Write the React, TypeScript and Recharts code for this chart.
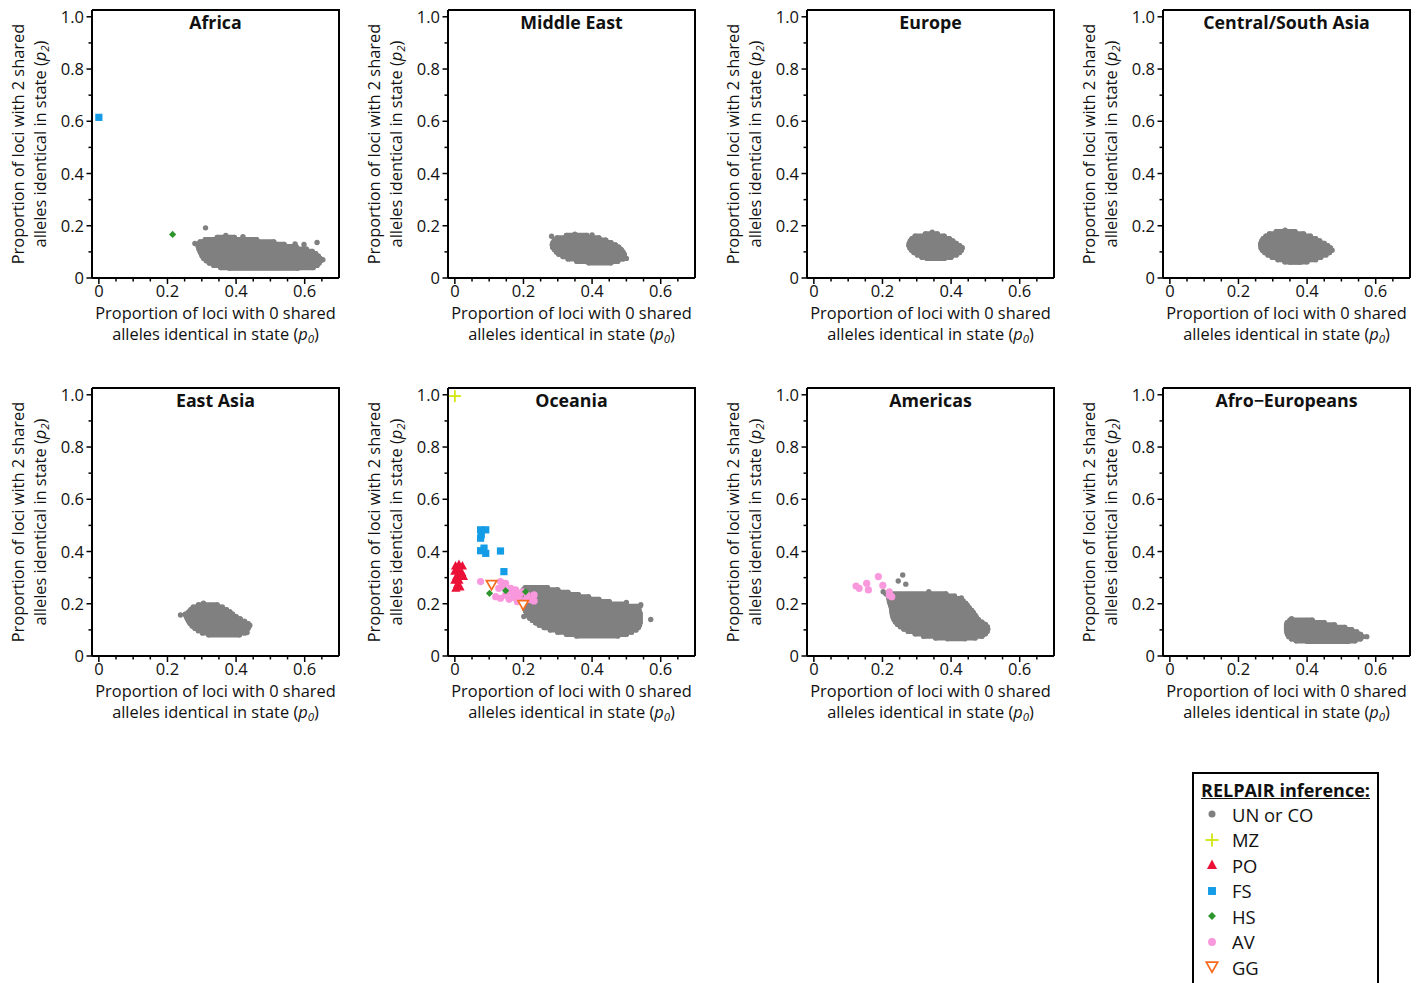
import React from "react";
import { ScatterChart, Scatter, XAxis, YAxis } from "recharts";

type XY = [number, number];
type Strip = [number, number, number]; // y, x from, x to (band of the dense cloud)

// ---- Africa ----
const africaCloud: Strip[] = [
  [0.156, 0.345, 0.395], [0.147, 0.31, 0.46], [0.138, 0.295, 0.51], [0.129, 0.288, 0.54],
  [0.12, 0.29, 0.575], [0.111, 0.292, 0.605], [0.102, 0.295, 0.622], [0.093, 0.298, 0.632],
  [0.084, 0.301, 0.64], [0.075, 0.306, 0.645], [0.066, 0.313, 0.646], [0.057, 0.322, 0.642],
  [0.048, 0.335, 0.636], [0.04, 0.355, 0.625], [0.038, 0.38, 0.58],
];
const africaUN: XY[] = [[0.311, 0.192], [0.636, 0.136], [0.572, 0.13], [0.653, 0.07], [0.28, 0.132], [0.598, 0.128], [0.37, 0.163], [0.42, 0.158]];
const africaFS: XY[] = [[0, 0.615]];
const africaHS: XY[] = [[0.215, 0.167]];

// ---- Middle East ----
const middleEastCloud: Strip[] = [
  [0.163, 0.325, 0.385], [0.154, 0.298, 0.42], [0.145, 0.29, 0.44], [0.136, 0.286, 0.455],
  [0.127, 0.284, 0.468], [0.118, 0.285, 0.478], [0.109, 0.29, 0.485], [0.1, 0.296, 0.49],
  [0.091, 0.303, 0.494], [0.082, 0.315, 0.494], [0.073, 0.33, 0.49], [0.064, 0.355, 0.475],
  [0.058, 0.39, 0.455],
];
const middleEastUN: XY[] = [[0.282, 0.16], [0.5, 0.075], [0.35, 0.168], [0.4, 0.165]];

// ---- Europe ----
const europeCloud: Strip[] = [
  [0.169, 0.325, 0.36], [0.16, 0.295, 0.38], [0.151, 0.286, 0.395], [0.142, 0.281, 0.405],
  [0.133, 0.278, 0.415], [0.124, 0.277, 0.425], [0.115, 0.28, 0.432], [0.106, 0.285, 0.43],
  [0.097, 0.292, 0.424], [0.088, 0.302, 0.415], [0.079, 0.315, 0.4], [0.075, 0.33, 0.38],
];
const europeUN: XY[] = [[0.345, 0.175], [0.432, 0.116]];

// ---- Central/South Asia ----
const centralAsiaCloud: Strip[] = [
  [0.178, 0.31, 0.365], [0.169, 0.29, 0.39], [0.16, 0.28, 0.41], [0.151, 0.272, 0.425],
  [0.142, 0.268, 0.437], [0.133, 0.265, 0.45], [0.124, 0.265, 0.46], [0.115, 0.266, 0.468],
  [0.106, 0.27, 0.47], [0.097, 0.277, 0.465], [0.088, 0.286, 0.455], [0.079, 0.298, 0.44],
  [0.07, 0.315, 0.425], [0.062, 0.335, 0.4], [0.061, 0.35, 0.38],
];
const centralAsiaUN: XY[] = [[0.336, 0.183], [0.473, 0.106]];

// ---- East Asia ----
const eastAsiaCloud: Strip[] = [
  [0.196, 0.29, 0.345], [0.187, 0.275, 0.36], [0.178, 0.268, 0.372], [0.169, 0.262, 0.382],
  [0.16, 0.252, 0.39], [0.151, 0.255, 0.4], [0.142, 0.258, 0.412], [0.133, 0.262, 0.425],
  [0.124, 0.266, 0.435], [0.115, 0.272, 0.438], [0.106, 0.28, 0.435], [0.097, 0.29, 0.43],
  [0.088, 0.302, 0.425], [0.081, 0.32, 0.41],
];
const eastAsiaUN: XY[] = [[0.238, 0.157], [0.305, 0.202], [0.44, 0.118], [0.432, 0.09]];

// ---- Oceania ----
const oceaniaCloud: Strip[] = [
  [0.262, 0.205, 0.27], [0.253, 0.199, 0.3], [0.244, 0.196, 0.33], [0.235, 0.195, 0.36],
  [0.226, 0.195, 0.39], [0.217, 0.196, 0.42], [0.208, 0.197, 0.45], [0.199, 0.199, 0.5],
  [0.19, 0.201, 0.53], [0.181, 0.203, 0.535], [0.172, 0.206, 0.538], [0.163, 0.209, 0.54],
  [0.154, 0.213, 0.54], [0.145, 0.218, 0.54], [0.136, 0.226, 0.54], [0.127, 0.235, 0.54],
  [0.118, 0.246, 0.538], [0.109, 0.26, 0.535], [0.1, 0.278, 0.528], [0.091, 0.3, 0.515],
  [0.083, 0.325, 0.5], [0.077, 0.355, 0.475],
];
const oceaniaUN: XY[] = [[0.571, 0.14], [0.542, 0.196], [0.201, 0.151], [0.54, 0.19], [0.5, 0.205], [0.3, 0.252]];
const oceaniaMZ: XY[] = [[0, 0.995]];
const oceaniaPO: XY[] = [
  [0.002, 0.345], [0.012, 0.35], [0.022, 0.345], [0.0, 0.325], [0.01, 0.33], [0.02, 0.32], [0.005, 0.305],
  [0.015, 0.31], [0.025, 0.305], [0.0, 0.29], [0.012, 0.29], [0.008, 0.275], [0.003, 0.26], [0.015, 0.265],
];
const oceaniaFS: XY[] = [
  [0.075, 0.483], [0.09, 0.483], [0.077, 0.464], [0.075, 0.451], [0.075, 0.403], [0.085, 0.413],
  [0.09, 0.393], [0.133, 0.402], [0.143, 0.323],
];
const oceaniaAV: XY[] = [
  [0.075, 0.285], [0.133, 0.285], [0.143, 0.272], [0.119, 0.227], [0.133, 0.221], [0.148, 0.234],
  [0.158, 0.217], [0.172, 0.234], [0.177, 0.253], [0.163, 0.259], [0.148, 0.278], [0.138, 0.266],
  [0.187, 0.227], [0.197, 0.246], [0.211, 0.234], [0.221, 0.215], [0.231, 0.234], [0.231, 0.211],
  [0.206, 0.215], [0.128, 0.259], [0.182, 0.208], [0.16, 0.245], [0.19, 0.24], [0.17, 0.224],
];
const oceaniaHS: XY[] = [[0.101, 0.24], [0.148, 0.25], [0.206, 0.246]];
const oceaniaGG: XY[] = [[0.107, 0.272], [0.199, 0.195]];

// ---- Americas ----
const americasCloud: Strip[] = [
  [0.238, 0.21, 0.385], [0.229, 0.217, 0.41], [0.22, 0.219, 0.425], [0.211, 0.22, 0.435],
  [0.202, 0.222, 0.443], [0.193, 0.224, 0.448], [0.184, 0.226, 0.453], [0.175, 0.227, 0.46],
  [0.166, 0.228, 0.465], [0.157, 0.229, 0.47], [0.148, 0.231, 0.474], [0.139, 0.234, 0.48],
  [0.13, 0.238, 0.49], [0.121, 0.244, 0.5], [0.112, 0.252, 0.506], [0.103, 0.262, 0.507],
  [0.094, 0.275, 0.505], [0.085, 0.295, 0.5], [0.076, 0.32, 0.49], [0.069, 0.355, 0.47],
  [0.066, 0.39, 0.44],
];
const americasUN: XY[] = [[0.259, 0.31], [0.246, 0.287], [0.268, 0.275], [0.335, 0.246], [0.43, 0.222], [0.202, 0.246]];
const americasAV: XY[] = [
  [0.123, 0.268], [0.132, 0.259], [0.154, 0.278], [0.159, 0.253], [0.188, 0.304], [0.201, 0.27],
  [0.22, 0.246], [0.227, 0.227], [0.22, 0.232],
];

// ---- Afro-Europeans ----
const afroEuropeanCloud: Strip[] = [
  [0.137, 0.35, 0.415], [0.128, 0.342, 0.45], [0.119, 0.34, 0.48], [0.11, 0.34, 0.51],
  [0.101, 0.34, 0.53], [0.092, 0.341, 0.545], [0.083, 0.343, 0.556], [0.074, 0.347, 0.562],
  [0.065, 0.355, 0.555], [0.058, 0.368, 0.54], [0.056, 0.4, 0.52],
];
const afroEuropeanUN: XY[] = [[0.574, 0.074], [0.355, 0.143]];

const X_TICKS = [0, 0.05, 0.1, 0.15, 0.2, 0.25, 0.3, 0.35, 0.4, 0.45, 0.5, 0.55, 0.6, 0.65];
const Y_TICKS = [0, 0.1, 0.2, 0.3, 0.4, 0.5, 0.6, 0.7, 0.8, 0.9, 1.0];
const LEGEND_CODES = ["UN", "MZ", "PO", "FS", "HS", "AV", "GG"];
const LEGEND_LABELS = ["UN or CO", "MZ", "PO", "FS", "HS", "AV", "GG"];

const FONT = "'Open Sans', 'Liberation Sans', sans-serif";
const GRAY = "#808080";
const COLORS: Record<string, string> = {
  UN: GRAY, MZ: "#d2e60f", PO: "#ec1237", FS: "#149ce6", HS: "#2e962e", AV: "#fa98de", GG: "#f76b1c",
};

const PLOT_W = 247;
const PLOT_H = 268;
const COL_LEFT = [92, 448, 807, 1163];
const ROW_TOP = [10, 388];

type Marks = { code: string; data: XY[] }[];
type PanelCfg = { title: string; row: number; col: number; cloud: Strip[]; marks: Marks };

const PANELS: PanelCfg[] = [
  { title: "Africa", row: 0, col: 0, cloud: africaCloud, marks: [{ code: "UN", data: africaUN }, { code: "FS", data: africaFS }, { code: "HS", data: africaHS }] },
  { title: "Middle East", row: 0, col: 1, cloud: middleEastCloud, marks: [{ code: "UN", data: middleEastUN }] },
  { title: "Europe", row: 0, col: 2, cloud: europeCloud, marks: [{ code: "UN", data: europeUN }] },
  { title: "Central/South Asia", row: 0, col: 3, cloud: centralAsiaCloud, marks: [{ code: "UN", data: centralAsiaUN }] },
  { title: "East Asia", row: 1, col: 0, cloud: eastAsiaCloud, marks: [{ code: "UN", data: eastAsiaUN }] },
  {
    title: "Oceania", row: 1, col: 1, cloud: oceaniaCloud,
    marks: [
      { code: "UN", data: oceaniaUN }, { code: "AV", data: oceaniaAV }, { code: "MZ", data: oceaniaMZ },
      { code: "PO", data: oceaniaPO }, { code: "FS", data: oceaniaFS }, { code: "HS", data: oceaniaHS },
      { code: "GG", data: oceaniaGG },
    ],
  },
  { title: "Americas", row: 1, col: 2, cloud: americasCloud, marks: [{ code: "UN", data: americasUN }, { code: "AV", data: americasAV }] },
  { title: "Afro\u2212Europeans", row: 1, col: 3, cloud: afroEuropeanCloud, marks: [{ code: "UN", data: afroEuropeanUN }] },
];

function marker(code: string, cx: number, cy: number, k = 1) {
  const c = COLORS[code];
  switch (code) {
    case "MZ":
      return (
        <g stroke={c} strokeWidth={1.8}>
          <line x1={cx - 6 * k} x2={cx + 6 * k} y1={cy} y2={cy} />
          <line x1={cx} x2={cx} y1={cy - 6 * k} y2={cy + 6 * k} />
        </g>
      );
    case "PO":
      return <polygon points={`${cx},${cy - 5 * k} ${cx + 4.6 * k},${cy + 3.6 * k} ${cx - 4.6 * k},${cy + 3.6 * k}`} fill={c} />;
    case "FS":
      return <rect x={cx - 3.6 * k} y={cy - 3.6 * k} width={7.2 * k} height={7.2 * k} fill={c} />;
    case "HS":
      return <polygon points={`${cx},${cy - 3.6 * k} ${cx + 3.6 * k},${cy} ${cx},${cy + 3.6 * k} ${cx - 3.6 * k},${cy}`} fill={c} />;
    case "AV":
      return <circle cx={cx} cy={cy} r={3.6 * k} fill={c} />;
    case "GG":
      return (
        <polygon
          points={`${cx - 5.2 * k},${cy - 4.4 * k} ${cx + 5.2 * k},${cy - 4.4 * k} ${cx},${cy + 4.8 * k}`}
          fill="#fff" stroke={c} strokeWidth={1.7}
        />
      );
    default:
      return <circle cx={cx} cy={cy} r={2.7 * k} fill={c} />;
  }
}

const XTick = (p: any) => {
  const v = p.payload.value as number;
  const major = Math.round(v * 100) % 20 === 0;
  return (
    <g>
      <line x1={p.x} x2={p.x} y1={p.y} y2={p.y + (major ? 6 : 3.5)} stroke="#000" strokeWidth={1.5} />
      {major && (
        <text x={p.x} y={p.y + 18.8} textAnchor="middle" fontSize={16.5} fontFamily={FONT} fill="#111">
          {v === 0 ? "0" : v.toFixed(1)}
        </text>
      )}
    </g>
  );
};

const YTick = (p: any) => {
  const v = p.payload.value as number;
  const major = Math.round(v * 10) % 2 === 0;
  return (
    <g>
      <line x1={p.x} x2={p.x - (major ? 5.5 : 3.5)} y1={p.y} y2={p.y} stroke="#000" strokeWidth={1.5} />
      {major && (
        <text x={p.x - 8} y={p.y + 6} textAnchor="end" fontSize={16.5} fontFamily={FONT} fill="#111">
          {v === 0 ? "0" : v.toFixed(1)}
        </text>
      )}
    </g>
  );
};

const sub: React.CSSProperties = { fontSize: "0.7em", verticalAlign: "-0.3em", fontStyle: "italic" };
const cloudLine = { stroke: GRAY, strokeWidth: 5.2, strokeLinecap: "round" as const, fill: "none" };

function Panel({ cfg }: { cfg: PanelCfg }) {
  const left = COL_LEFT[cfg.col];
  const top = ROW_TOP[cfg.row];
  const mid = left + PLOT_W / 2;
  return (
    <>
      <div style={{ position: "absolute", left: left - 60, top: top - 10 }}>
        <ScatterChart width={60 + PLOT_W + 12} height={10 + PLOT_H + 30} margin={{ top: 10, right: 12, bottom: 0, left: 0 }}>
          <XAxis
            type="number" dataKey="x" domain={[-0.02, 0.7]} allowDataOverflow ticks={X_TICKS} interval={0}
            tick={(p: any) => <XTick {...p} />} tickLine={false} tickSize={0} tickMargin={0}
            axisLine={{ stroke: "#000", strokeWidth: 2 }} height={30}
          />
          <YAxis
            type="number" dataKey="y" domain={[0, 1.026]} allowDataOverflow ticks={Y_TICKS} interval={0}
            tick={(p: any) => <YTick {...p} />} tickLine={false} tickSize={0} tickMargin={0}
            axisLine={{ stroke: "#000", strokeWidth: 2 }} width={60}
          />
          {cfg.cloud.map(([y, a, b], i) => (
            <Scatter
              key={`c${i}`}
              data={[{ x: a, y }, { x: b, y }]}
              line={cloudLine}
              lineType="joint"
              shape={(p: any) => <circle cx={p.cx} cy={p.cy} r={2.6} fill={GRAY} />}
              isAnimationActive={false}
            />
          ))}
          {cfg.marks.map((m, i) => (
            <Scatter
              key={`m${i}`}
              data={m.data.map(([x, y]) => ({ x, y }))}
              shape={(p: any) => marker(m.code, p.cx, p.cy)}
              isAnimationActive={false}
            />
          ))}
        </ScatterChart>
      </div>
      <div
        style={{
          position: "absolute", left, top: top - 1, width: PLOT_W + 1, height: PLOT_H + 1,
          borderTop: "2px solid #000", borderRight: "2px solid #000", boxSizing: "border-box", pointerEvents: "none",
        }}
      />
      <div style={{ position: "absolute", left: mid - 120, width: 240, top: top, textAlign: "center", fontWeight: 700, fontSize: 17.8, lineHeight: "24px", color: "#111" }}>
        {cfg.title}
      </div>
      <div style={{ position: "absolute", left: mid - 150, width: 300, top: top + PLOT_H + 24, textAlign: "center", fontSize: 16.4, lineHeight: "21px", color: "#111" }}>
        <div>Proportion of loci with 0 shared</div>
        <div>
          alleles identical in state (<i>p</i><span style={sub}>0</span>)
        </div>
      </div>
      <div
        style={{
          position: "absolute", left: left - 63 - PLOT_H / 2, top: top + PLOT_H / 2 - 22, width: PLOT_H, height: 44,
          transform: "rotate(-90deg)", textAlign: "center", fontSize: 16.4, lineHeight: "22px", color: "#111",
        }}
      >
        <div>Proportion of loci with 2 shared</div>
        <div>
          alleles identical in state (<i>p</i><span style={sub}>2</span>)
        </div>
      </div>
    </>
  );
}

function LegendBox() {
  return (
    <div
      style={{
        position: "absolute", left: 1192, top: 772, width: 187, height: 230, boxSizing: "border-box",
        border: "2px solid #000", background: "#fff",
      }}
    >
      <div style={{ textAlign: "center", fontWeight: 700, fontSize: 18, textDecoration: "underline", marginTop: 4, lineHeight: "24px", color: "#111" }}>
        RELPAIR inference:
      </div>
      {LEGEND_CODES.map((code, i) => (
        <div key={code} style={{ position: "absolute", left: 0, top: 28 + i * 25.5, height: 24, display: "flex", alignItems: "center" }}>
          <svg width={36} height={24} style={{ display: "block" }}>
            {marker(code, 18, 12, code === "UN" ? 1.3 : 1.1)}
          </svg>
          <span style={{ fontSize: 18.4, marginLeft: 2, color: "#111" }}>{LEGEND_LABELS[i]}</span>
        </div>
      ))}
    </div>
  );
}

export default function App() {
  return (
    <div style={{ position: "absolute", left: 0, top: 0, width: 1424, height: 983, background: "#fff", fontFamily: FONT, overflow: "hidden" }}>
      {PANELS.map((cfg) => (
        <Panel key={cfg.title} cfg={cfg} />
      ))}
      <LegendBox />
    </div>
  );
}
